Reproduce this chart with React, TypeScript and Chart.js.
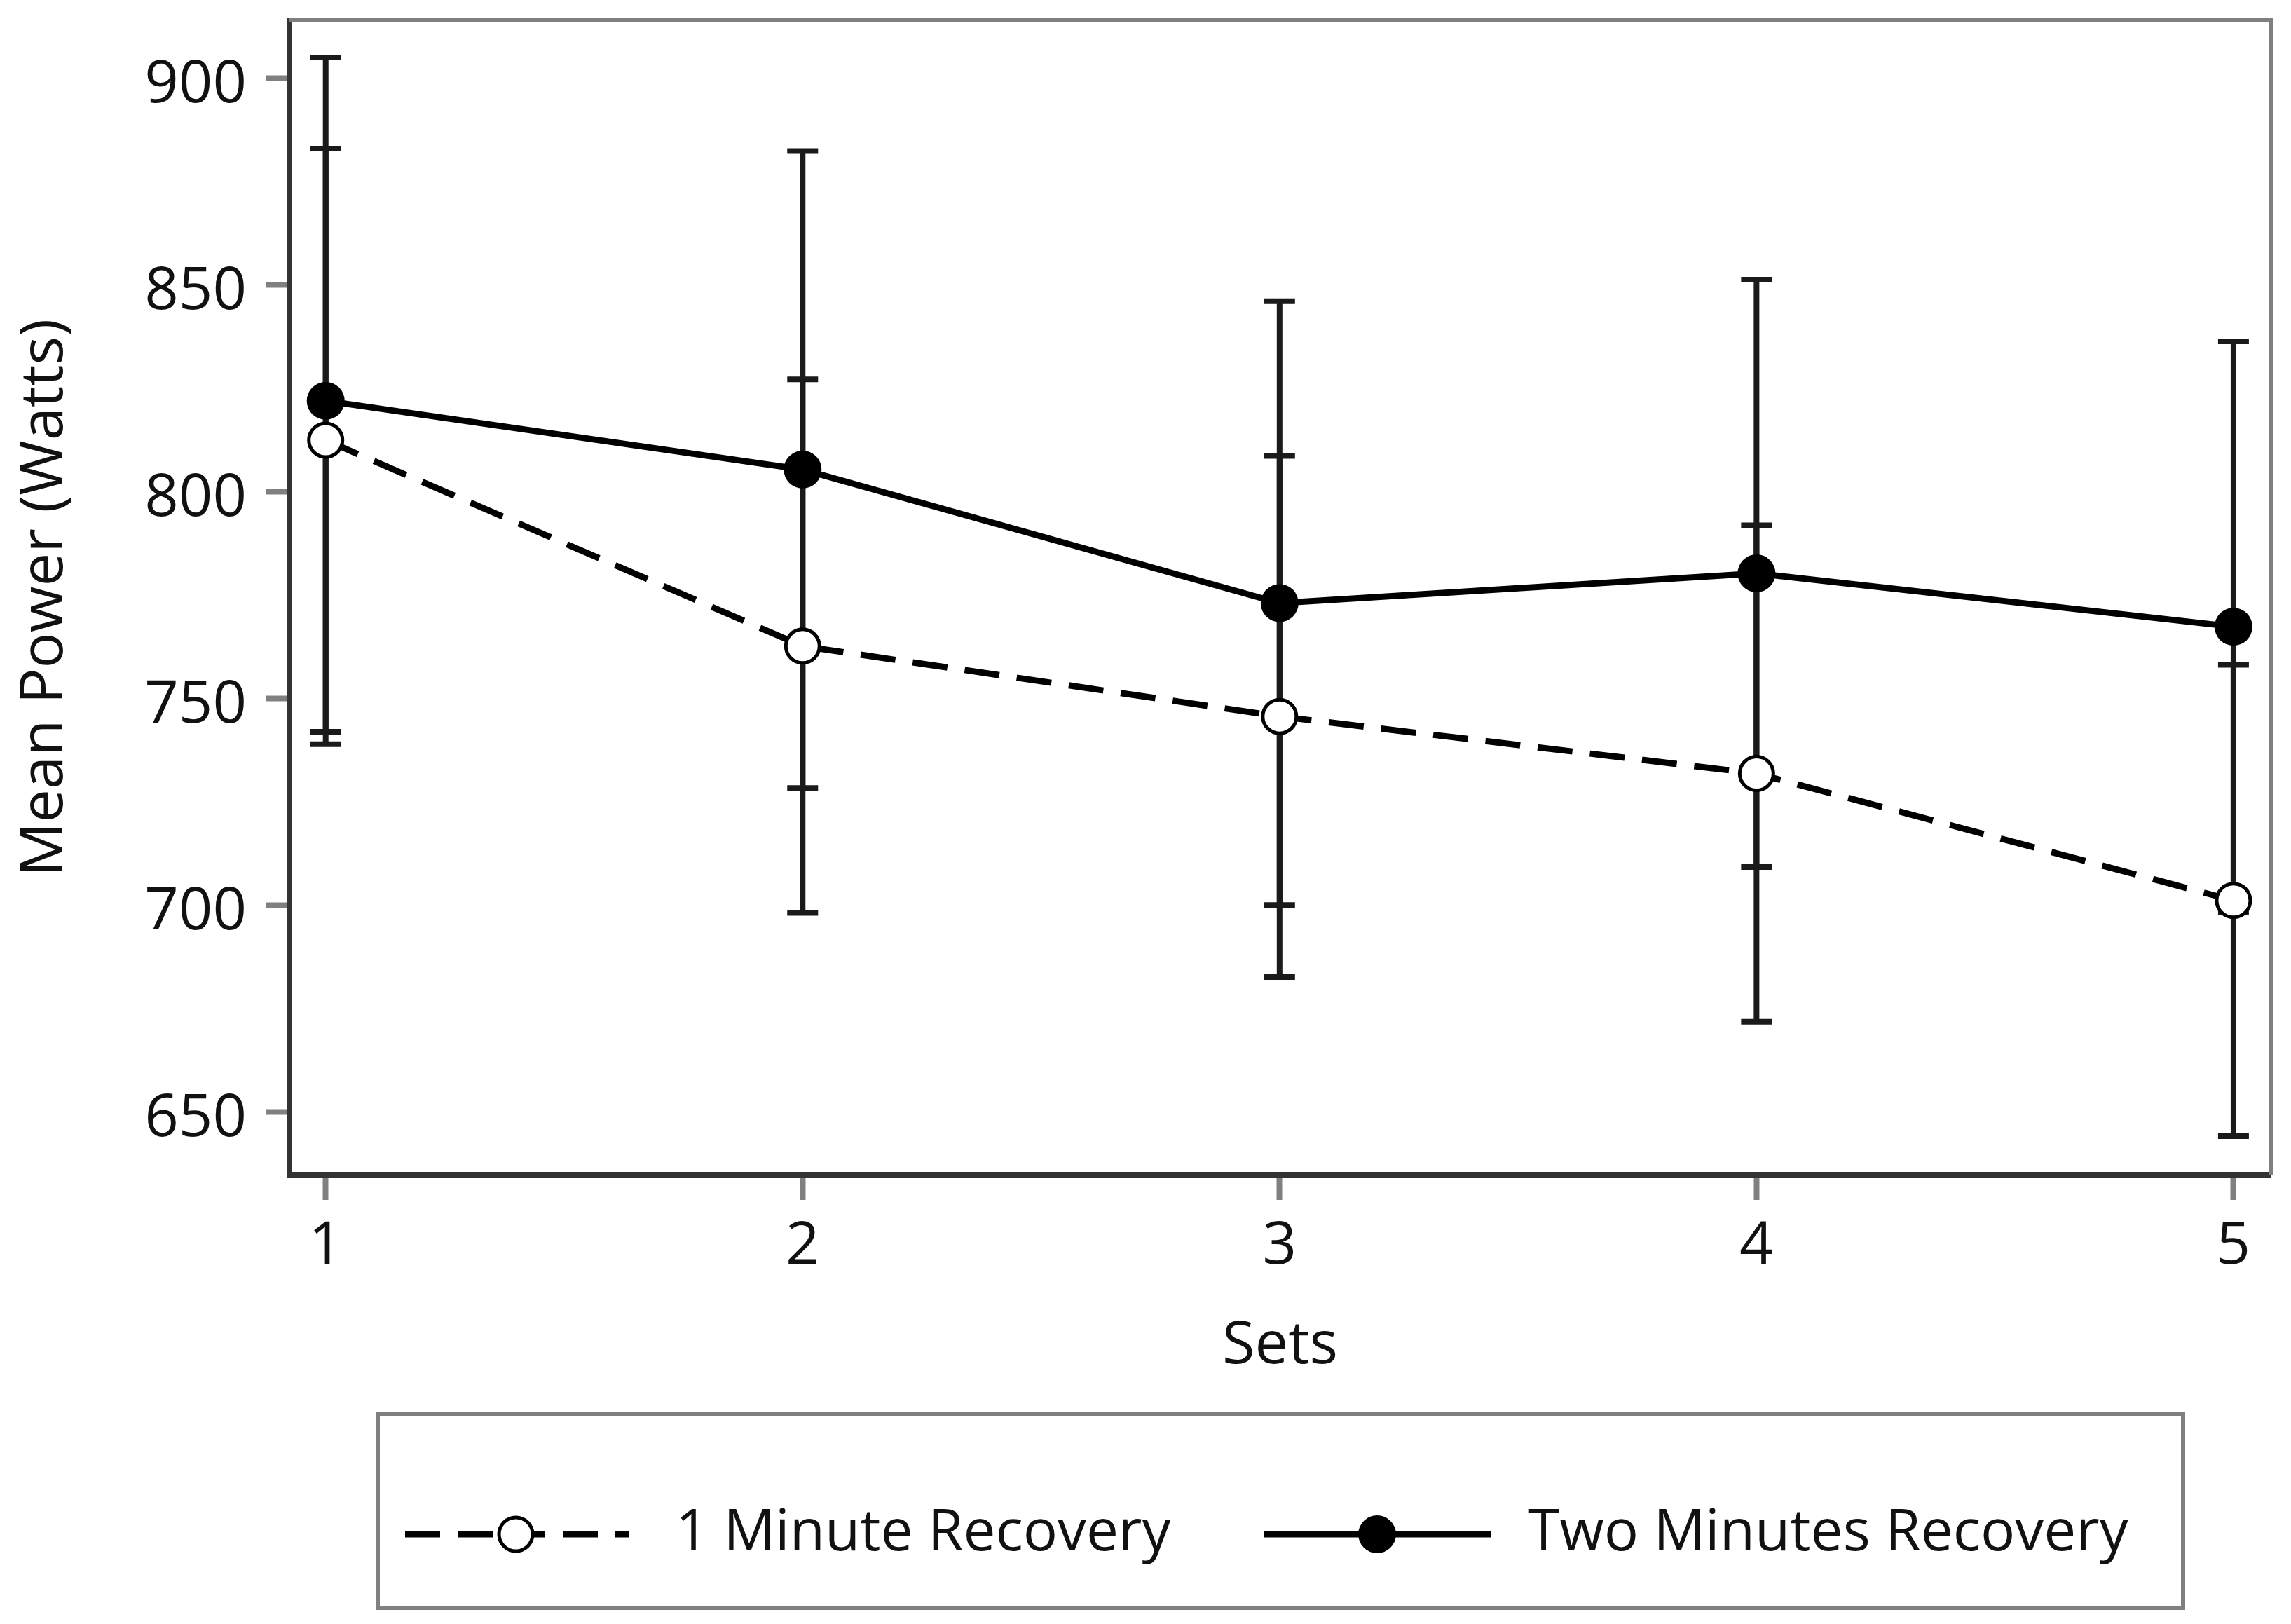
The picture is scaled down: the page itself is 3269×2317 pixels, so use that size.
import { useEffect, useRef } from "react";
import Chart from "chart.js/auto";

// ── values ────────────────────────────────────────────────────────────────
const SETS = [1, 2, 3, 4, 5];
const Y_TICKS = [650, 700, 750, 800, 850, 900];

const ONE_MIN_LABEL = "1 Minute Recovery";
const ONE_MIN_MEAN = [812.5, 762.7, 745.7, 731.9, 701.2];
const ONE_MIN_SD = [70.5, 64.5, 63, 60, 57];

const TWO_MIN_LABEL = "Two Minutes Recovery";
const TWO_MIN_MEAN = [822, 805.4, 773.1, 780.3, 767.4];
const TWO_MIN_SD = [83, 77, 73, 71, 69];

const X_TITLE = "Sets";
const Y_TITLE = "Mean Power (Watts)";

// ── look ───────────────────────────────────────────────────────────────────
const FONT = '"Open Sans", "DejaVu Sans", sans-serif';
const TEXT = "#111";
const W = 3269;
const H = 2317;

// Vertical error bars (mean ± SD), drawn under the lines and markers.
const errorBars = {
  id: "errorBars",
  beforeDatasetsDraw(chart: Chart) {
    const { ctx } = chart;
    const xs = chart.scales.x;
    const ys = chart.scales.y;
    ctx.save();
    ctx.strokeStyle = "#1a1a1a";
    ctx.lineWidth = 8;
    chart.data.datasets.forEach((ds: any) => {
      ds.data.forEach((pt: { x: number; y: number }, i: number) => {
        const sd = ds.sd[i];
        const px = xs.getPixelForValue(pt.x);
        const top = ys.getPixelForValue(pt.y + sd);
        const bot = ys.getPixelForValue(pt.y - sd);
        ctx.beginPath();
        ctx.moveTo(px, top);
        ctx.lineTo(px, bot);
        ctx.moveTo(px - 22, top);
        ctx.lineTo(px + 22, top);
        ctx.moveTo(px - 22, bot);
        ctx.lineTo(px + 22, bot);
        ctx.stroke();
      });
    });
    ctx.restore();
  },
};

// Grey top and right edges of the plot frame (left/bottom are the axes).
const frame = {
  id: "frame",
  beforeDatasetsDraw(chart: Chart) {
    const { ctx, chartArea: a } = chart;
    ctx.save();
    ctx.strokeStyle = "#808080";
    ctx.lineWidth = 6;
    ctx.beginPath();
    ctx.moveTo(a.left, a.top);
    ctx.lineTo(a.right, a.top);
    ctx.lineTo(a.right, a.bottom);
    ctx.stroke();
    ctx.restore();
  },
};

// Boxed legend under the axis, line + marker + line swatches.
const LEGEND_BOX = { left: 539, top: 2017, right: 3115, bottom: 2294 };
const LEGEND_SLOTS = [
  { lineFrom: 578, lineTo: 897, marker: 736, text: 964 },
  { lineFrom: 1803, lineTo: 2128, marker: 1965, text: 2180 },
];
const boxLegend = {
  id: "boxLegend",
  afterDraw(chart: Chart) {
    const { ctx } = chart;
    const cy = 2189;
    ctx.save();
    ctx.strokeStyle = "#808080";
    ctx.lineWidth = 6;
    ctx.strokeRect(
      LEGEND_BOX.left,
      LEGEND_BOX.top,
      LEGEND_BOX.right - LEGEND_BOX.left,
      LEGEND_BOX.bottom - LEGEND_BOX.top,
    );
    chart.data.datasets.forEach((ds: any, i: number) => {
      const s = LEGEND_SLOTS[i];
      ctx.strokeStyle = "#000";
      ctx.lineWidth = ds.borderWidth;
      ctx.setLineDash(ds.borderDash ?? []);
      ctx.beginPath();
      ctx.moveTo(s.lineFrom, cy);
      ctx.lineTo(s.lineTo, cy);
      ctx.stroke();
      ctx.setLineDash([]);
      ctx.beginPath();
      ctx.arc(s.marker, cy, ds.pointRadius, 0, Math.PI * 2);
      ctx.fillStyle = ds.pointBackgroundColor;
      ctx.fill();
      if (ds.pointBorderWidth) {
        ctx.lineWidth = ds.pointBorderWidth;
        ctx.strokeStyle = ds.pointBorderColor;
        ctx.stroke();
      }
      ctx.fillStyle = TEXT;
      ctx.font = `82px ${FONT}`;
      ctx.textBaseline = "middle";
      ctx.textAlign = "left";
      ctx.fillText(ds.label, s.text, cy);
    });
    ctx.restore();
  },
};

export default function App() {
  const canvasRef = useRef<HTMLCanvasElement>(null);

  useEffect(() => {
    const ctx = canvasRef.current?.getContext("2d");
    if (!ctx) return;
    const chart = new Chart(ctx, {
      type: "line",
      data: {
        datasets: [
          {
            label: ONE_MIN_LABEL,
            data: SETS.map((s, i) => ({ x: s, y: ONE_MIN_MEAN[i] })),
            sd: ONE_MIN_SD,
            order: 1,
            borderColor: "#000",
            borderWidth: 9,
            borderDash: [50, 25],
            pointRadius: 24,
            pointBorderWidth: 5,
            pointBackgroundColor: "#fff",
            pointBorderColor: "#000",
            tension: 0,
          } as any,
          {
            label: TWO_MIN_LABEL,
            data: SETS.map((s, i) => ({ x: s, y: TWO_MIN_MEAN[i] })),
            sd: TWO_MIN_SD,
            order: 0,
            borderColor: "#000",
            borderWidth: 9,
            pointRadius: 27,
            pointBorderWidth: 0,
            pointBackgroundColor: "#000",
            pointBorderColor: "#000",
            tension: 0,
          } as any,
        ],
      },
      options: {
        animation: false,
        responsive: true,
        maintainAspectRatio: false,
        devicePixelRatio: 1,
        layout: { padding: { top: 29, right: 26, left: 0, bottom: 341 } },
        plugins: { legend: { display: false }, tooltip: { enabled: false } },
        scales: {
          x: {
            type: "linear",
            min: 0.924,
            max: 5.078,
            afterBuildTicks: (s: any) => {
              s.ticks = SETS.map((v) => ({ value: v }));
            },
            afterFit: (s: any) => {
              s.height = 300;
              s.paddingLeft = 0;
              s.paddingRight = 0;
            },
            grid: { drawOnChartArea: false, tickLength: 36, tickWidth: 8, tickColor: "#808080" },
            border: { color: "#333", width: 8 },
            ticks: { font: { family: FONT, size: 85 }, color: TEXT, padding: 16, maxRotation: 0, autoSkip: false },
            title: {
              display: true,
              text: X_TITLE,
              font: { family: FONT, size: 85 },
              color: TEXT,
              padding: { top: 0, bottom: 4 },
            },
          },
          y: {
            type: "linear",
            min: 634.9,
            max: 914,
            afterBuildTicks: (s: any) => {
              s.ticks = Y_TICKS.map((v) => ({ value: v }));
            },
            afterFit: (s: any) => {
              s.width = 413;
              s.paddingTop = 0;
              s.paddingBottom = 0;
            },
            grid: { drawOnChartArea: false, tickLength: 34, tickWidth: 8, tickColor: "#808080" },
            border: { color: "#333", width: 8 },
            ticks: { font: { family: FONT, size: 85 }, color: TEXT, padding: 27, labelOffset: 10 },
            title: {
              display: true,
              text: Y_TITLE,
              font: { family: FONT, size: 85 },
              color: TEXT,
              padding: { top: 14, bottom: 0 },
            },
          },
        },
      },
      plugins: [frame, errorBars, boxLegend],
    });
    return () => chart.destroy();
  }, []);

  return (
    <div style={{ position: "absolute", left: 0, top: 0, width: W, height: H, background: "#fff" }}>
      <canvas ref={canvasRef} />
    </div>
  );
}
